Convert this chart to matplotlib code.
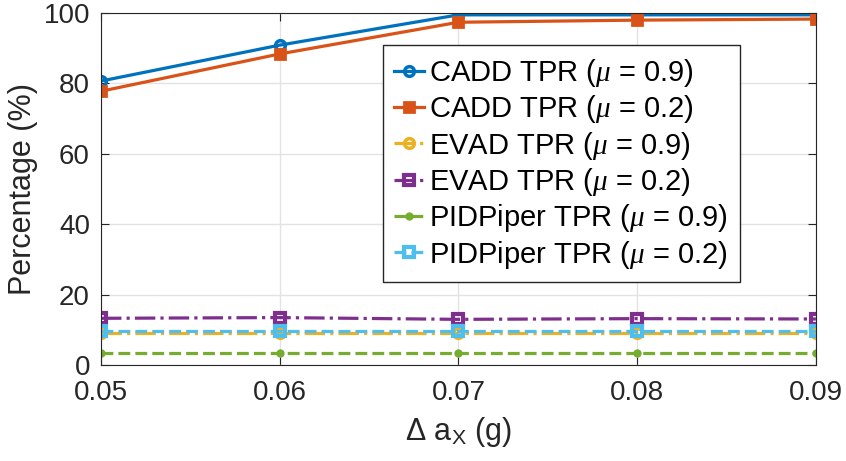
import matplotlib.pyplot as plt

plt.rcParams['font.family'] = ['Liberation Sans', 'DejaVu Sans']
plt.rcParams['mathtext.fontset'] = 'custom'
plt.rcParams['mathtext.rm'] = 'Liberation Sans'
plt.rcParams['mathtext.it'] = 'Liberation Serif:italic'

# data
x = [0.05, 0.06, 0.07, 0.08, 0.09]
cadd_09 = [80.7, 90.9, 99.5, 99.5, 99.5]
cadd_02 = [77.8, 88.4, 97.4, 98.0, 98.3]
evad_09 = [9.1, 9.1, 9.1, 9.1, 9.1]
evad_02 = [13.3, 13.5, 13.0, 13.2, 13.1]
pid_09 = [3.3, 3.3, 3.3, 3.3, 3.3]
pid_02 = [9.6, 9.6, 9.6, 9.6, 9.6]

fig = plt.figure(figsize=(8.46, 4.61), dpi=100)
ax = fig.add_axes([0.1194, 0.208, 0.845, 0.7636])

ax.plot(x, cadd_09, '-o', color='#0072BD', lw=2.3, ms=7, mfc='none', mew=2.5,
        label=r'CADD TPR ($\mu$ = 0.9)')
ax.plot(x, cadd_02, '-s', color='#D95319', lw=2.3, ms=7, mew=2,
        label=r'CADD TPR ($\mu$ = 0.2)')
ax.plot(x, evad_09, '-.o', color='#EDB120', lw=2.3, ms=7, mfc='none', mew=2.5,
        label=r'EVAD TPR ($\mu$ = 0.9)')
ax.plot(x, evad_02, '-.s', color='#7E2F8E', lw=2.3, ms=7, mfc='none', mew=3,
        label=r'EVAD TPR ($\mu$ = 0.2)')
ax.plot(x, pid_09, '--o', color='#77AC30', lw=2.3, ms=5,
        label=r'PIDPiper TPR ($\mu$ = 0.9)')
ax.plot(x, pid_02, '--s', color='#4DBEEE', lw=2.3, ms=7, mfc='none', mew=3,
        label=r'PIDPiper TPR ($\mu$ = 0.2)')

ax.set_xlim(0.05, 0.09)
ax.set_ylim(0, 100)
ax.set_xticks(x)
ax.set_xticklabels(['0.05', '0.06', '0.07', '0.08', '0.09'])
ax.set_yticks([0, 20, 40, 60, 80, 100])
ax.tick_params(direction='in', labelsize=20, colors='#262626', length=6,
               top=True, right=True)
ax.tick_params(axis='x', pad=11)
ax.tick_params(axis='y', pad=8)
for s in ax.spines.values():
    s.set_color('#262626')
ax.grid(True, color='#e3e3e3', lw=1)
ax.set_axisbelow(True)

ax.set_xlabel(r'$\Delta$ a$_\mathrm{X}$ (g)', fontsize=22, color='#262626', labelpad=6)
ax.set_ylabel('Percentage (%)', fontsize=22, color='#262626', labelpad=4)

leg = ax.legend(loc='upper left', bbox_to_anchor=(0.394, 0.909), fontsize=21,
                fancybox=False, edgecolor='#262626', framealpha=1,
                handlelength=1.0, handletextpad=0.2, labelspacing=0.15,
                borderpad=0.4, borderaxespad=0)
leg.get_frame().set_linewidth(1)

fig.savefig('out.png', dpi=100)
